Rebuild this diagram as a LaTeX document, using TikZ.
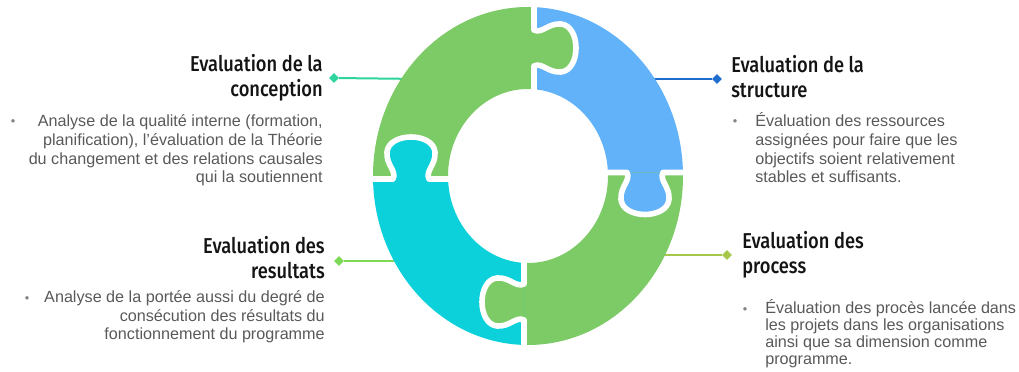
\documentclass[tikz,border=0pt]{standalone}
\usepackage{fontspec}
\setmainfont{Liberation Sans}
\newfontfamily\headfont[FakeStretch=0.85]{Fira Sans Medium}
\usepackage{tikz}
\usetikzlibrary{shapes.geometric}
\usepackage{xcolor}

\definecolor{leafgreen}{HTML}{7DCB66}
\definecolor{skyblue}{HTML}{61B2F9}
\definecolor{aqua}{HTML}{0CD1DB}
\definecolor{tealline}{HTML}{2DD49E}
\definecolor{blueline}{HTML}{1F6ECD}
\definecolor{greenline}{HTML}{7ED957}
\definecolor{oliveline}{HTML}{A6C84A}
\definecolor{headcol}{HTML}{141414}
\definecolor{bodycol}{HTML}{595959}

% outline of one puzzle tab, seam along v, tab pointing to +u
\def\tabshape{(0,-18) .. controls (8,-14) and (14,-25) .. (27,-24) .. controls (47,-22) and (47,22) .. (27,24) .. controls (14,25) and (8,14) .. (0,18)}

% tab of colour #3 at seam centre #1, turned by #2
\newcommand\puzzletab[3]{%
  \begin{scope}[shift={#1}, rotate=#2]
    \fill[#3] \tabshape -- cycle;
    \draw[seam] (0,-46) -- \tabshape -- (0,46);
  \end{scope}}

\begin{document}
\begin{tikzpicture}[
  x=0.025cm, y=0.025cm,
  seam/.style={draw=white, line width=0.14cm, line join=round},
  link/.style={line width=0.05cm},
  endmark/.style={diamond, fill=#1, inner sep=0pt, minimum size=0.25cm},
  head/.style={font=\headfont\fontsize{15.3pt}{17.8pt}\selectfont, text=headcol, inner sep=0pt},
  body/.style={font=\fontsize{11.5pt}{13.4pt}\selectfont, text=bodycol, inner sep=0pt},
  dot/.style={font=\fontsize{9pt}{10pt}\selectfont, text=bodycol!75, inner sep=0pt}
]
\useasboundingbox (0,0) rectangle (1019,372);

% Connectors (ring drawn over their inner ends)
\node[endmark=tealline]  (dTL) at (334,294) {};
\node[endmark=blueline]  (dTR) at (717,293) {};
\node[endmark=greenline] (dBL) at (339,111) {};
\node[endmark=oliveline] (dBR) at (727,117) {};
\coordinate (rTL) at (420,293);
\coordinate (rTR) at (640,293);
\coordinate (rBL) at (410,111);
\coordinate (rBR) at (650,117);
\draw[link, tealline]  (dTL) -- (rTL);
\draw[link, blueline]  (dTR) -- (rTR);
\draw[link, greenline] (dBL) -- (rBL);
\draw[link, oliveline] (dBR) -- (rBR);

% Ring pieces
\foreach \xa/\ya/\xb/\yb/\col in {300/193/534/400/leafgreen, 534/199.5/760/400/skyblue,
                                   524/0/760/199.5/leafgreen, 300/0/524/193/aqua} {
  \begin{scope}
    \clip (\xa,\ya) rectangle (\xb,\yb);
    \fill[\col, even odd rule] (528,196) ellipse [x radius=155, y radius=169]
                               (528,196) ellipse [x radius=80, y radius=87];
  \end{scope}
}

% Tabs and seams
\puzzletab{(534,324)}{0}{leafgreen}
\puzzletab{(645,199.5)}{-90}{skyblue}
\puzzletab{(524,70)}{180}{leafgreen}
\puzzletab{(411,193)}{90}{aqua}

% Top left (base = last line)
\node[head, anchor=base east, align=right] (hTL) at (323,275) {Evaluation de la\\conception};
\node[dot, anchor=base] (pTL) at (13,246) {•};
\node[body, anchor=base east, align=right] (bTL) at (323,189)
  {Analyse de la qualité interne (formation,\\planification), l’évaluation de la Théorie\\du changement et des relations causales\\qui la soutiennent};

% Top right
\node[head, anchor=base west, align=left] (hTR) at (731,274) {Evaluation de la\\structure};
\node[dot, anchor=base] (pTR) at (735,246) {•};
\node[body, anchor=base west, align=left] (bTR) at (755,189)
  {Évaluation des ressources\\assignées pour faire que les\\objectifs soient relativement\\stables et suffisants.};

% Bottom left
\node[head, anchor=base east, align=right] (hBL) at (325,93) {Evaluation des\\resultats};
\node[dot, anchor=base] (pBL) at (27,69) {•};
\node[body, anchor=base east, align=right] (bBL) at (325,32)
  {Analyse de la portée aussi du degré de\\consécution des résultats du\\fonctionnement du programme};

% Bottom right
\node[head, anchor=base west, align=left] (hBR) at (742,98) {Evaluation des\\process};
\node[dot, anchor=base] (pBR) at (745,58) {•};
\node[body, anchor=base west, align=left, font=\fontsize{11.5pt}{12.3pt}\selectfont] (bBR) at (765,7)
  {Évaluation des procès lancée dans\\les projets dans les organisations\\ainsi que sa dimension comme\\programme.};

\end{tikzpicture}
\end{document}
